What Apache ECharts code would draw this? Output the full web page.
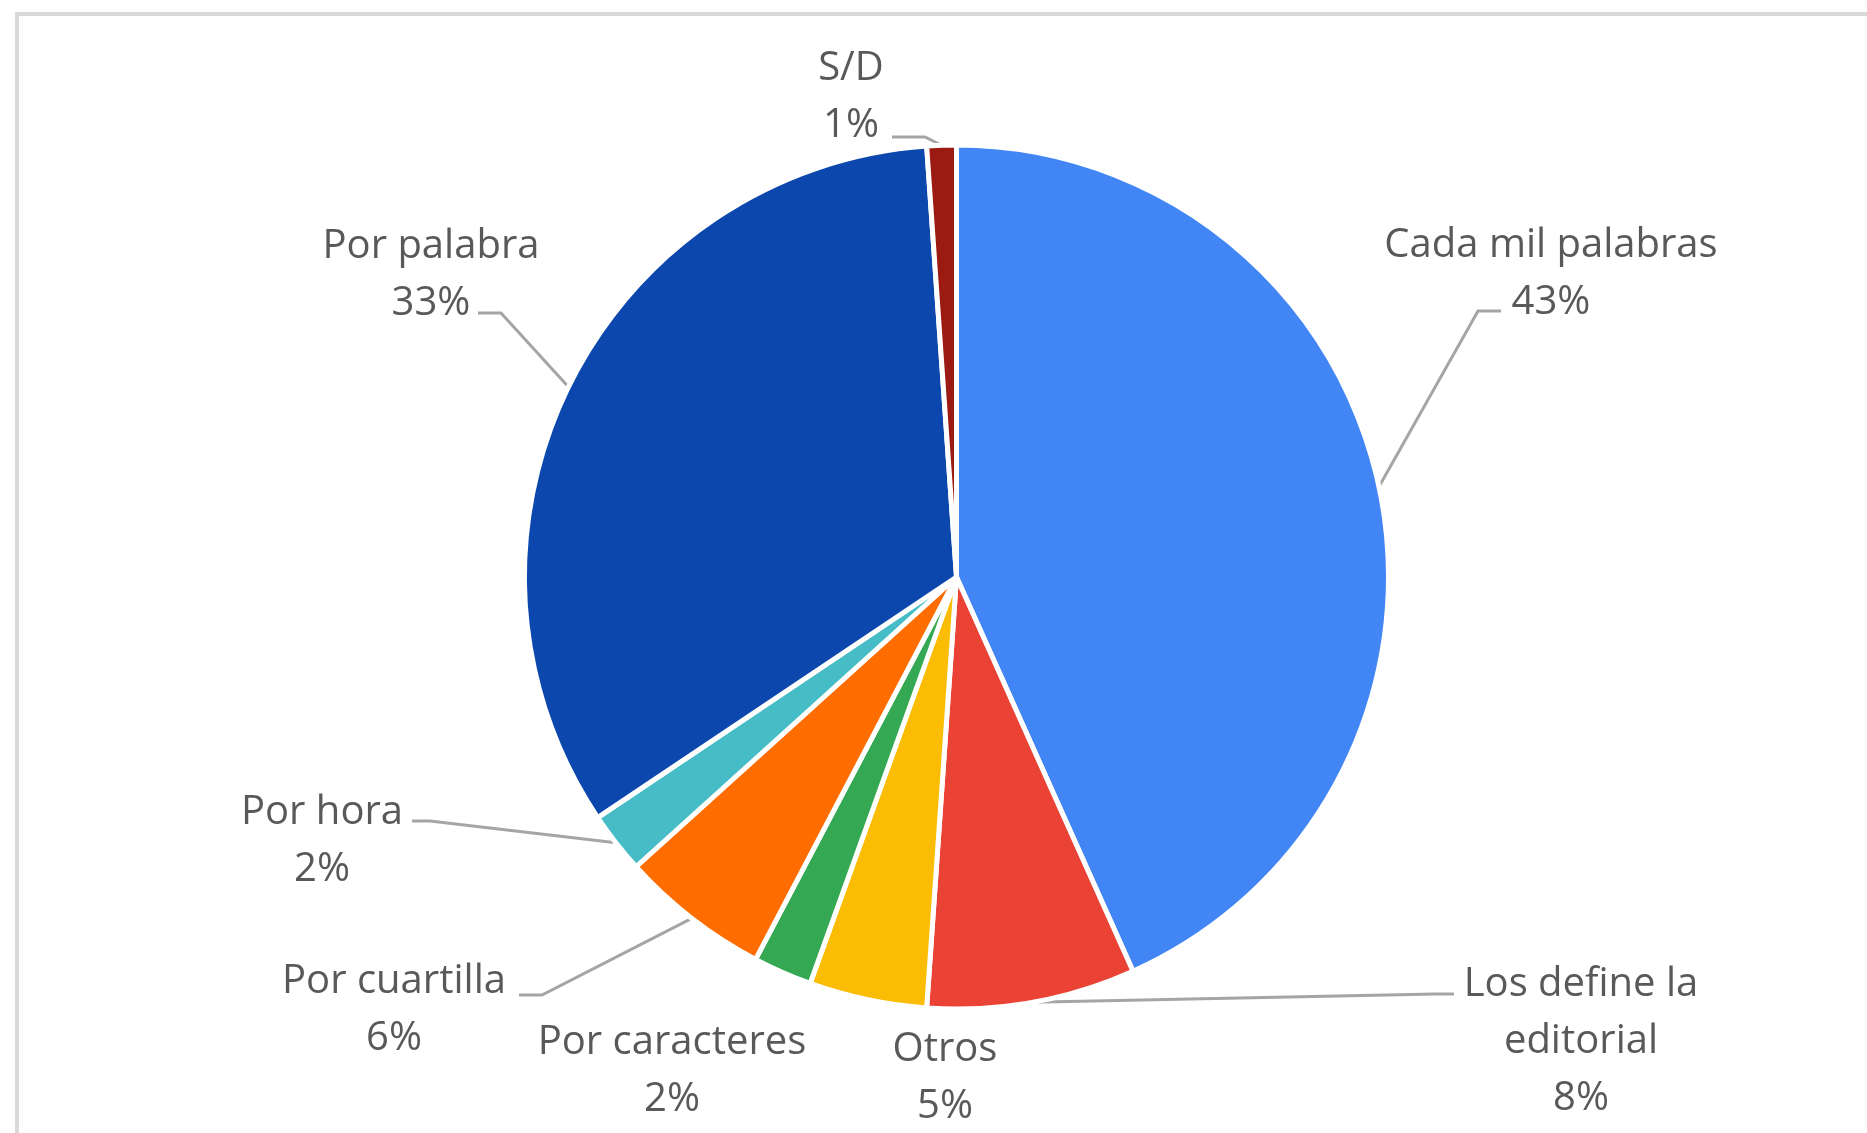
<!DOCTYPE html>
<html>
<head>
<meta charset="utf-8">
<script src="https://cdn.jsdelivr.net/npm/echarts@6/dist/echarts.min.js"></script>
<style>
  html, body { margin: 0; padding: 0; background: #ffffff; overflow: hidden; }
  #wrap { position: relative; width: 1867px; height: 1133px; overflow: hidden; background: #fff; }
  #frame { position: absolute; left: 15px; top: 12px; width: 1900px; height: 1200px;
           border-left: 4px solid #d9d9d9; border-top: 4px solid #d9d9d9; box-sizing: border-box; }
  #chart { position: absolute; left: 0; top: 0; width: 1867px; height: 1133px; }
</style>
</head>
<body>
<div id="wrap">
  <div id="frame"></div>
  <div id="chart"></div>
</div>
<script>
// ---- Data (share of each category in %) ----
const categories = ['Cada mil palabras', 'Los define la editorial', 'Otros', 'Por caracteres',
                    'Por cuartilla', 'Por hora', 'Por palabra', 'S/D'];
const values = [43.3, 7.8, 4.4, 2.2, 5.6, 2.3, 33.3, 1.1];

// ---- Styles ----
const colors = ['#4285F4', '#EA4335', '#FBBC04', '#34A853', '#FF6D01', '#46BDC6', '#0B47AD', '#9B1B12'];
const textColor = '#595959';

// ---- Label placement (label block centre, leader bend, leader end) ----
const labelPlacement = [
  { x: 1551, y: 274,  bend: [1478, 311], end: [1501, 311] },
  { x: 1581, y: 1042, bend: [1435, 994], end: [1454, 994] },
  { x: 945,  y: 1078, bend: null, end: null },
  { x: 672,  y: 1071, bend: null, end: null },
  { x: 394,  y: 1010, bend: [542, 995], end: [519, 995] },
  { x: 322,  y: 841,  bend: [430, 821], end: [412, 821] },
  { x: 431,  y: 275,  bend: [501, 313], end: [478, 313] },
  { x: 851,  y: 97,   bend: [925, 137], end: [892, 137] }
];

function wrapName(n) {
  return n === 'Los define la editorial' ? 'Los define la\neditorial' : n;
}

const chart = echarts.init(document.getElementById('chart'), null, { renderer: 'canvas' });

const data = categories.map((c, i) => ({
  name: c,
  value: values[i],
  itemStyle: { color: colors[i] },
  labelLine: { show: labelPlacement[i].end !== null }
}));

chart.setOption({
  animation: false,
  backgroundColor: 'transparent',
  series: [{
    type: 'pie',
    center: [956.5, 577],
    radius: 432,
    startAngle: 90,
    clockwise: true,
    percentPrecision: 0,
    avoidLabelOverlap: false,
    data: data,
    itemStyle: { borderColor: '#ffffff', borderWidth: 5 },
    label: {
      show: true,
      position: 'outside',
      formatter: p => wrapName(p.name) + '\n' + p.percent + '%',
      fontFamily: 'Open Sans',
      fontSize: 40,
      lineHeight: 57,
      color: textColor,
      align: 'center'
    },
    labelLine: {
      show: true,
      length: 20,
      length2: 20,
      smooth: false,
      lineStyle: { color: '#a5a5a5', width: 3 }
    },
    emphasis: { disabled: true },
    labelLayout: function (params) {
      const pl = labelPlacement[params.dataIndex];
      const out = { x: pl.x, y: pl.y, align: 'center', verticalAlign: 'middle', hideOverlap: false, moveOverlap: null };
      if (pl.end && params.labelLinePoints) {
        const p0 = params.labelLinePoints[0];
        out.labelLinePoints = [[p0[0], p0[1]], pl.bend, pl.end];
      }
      return out;
    }
  }]
});
</script>
</body>
</html>
